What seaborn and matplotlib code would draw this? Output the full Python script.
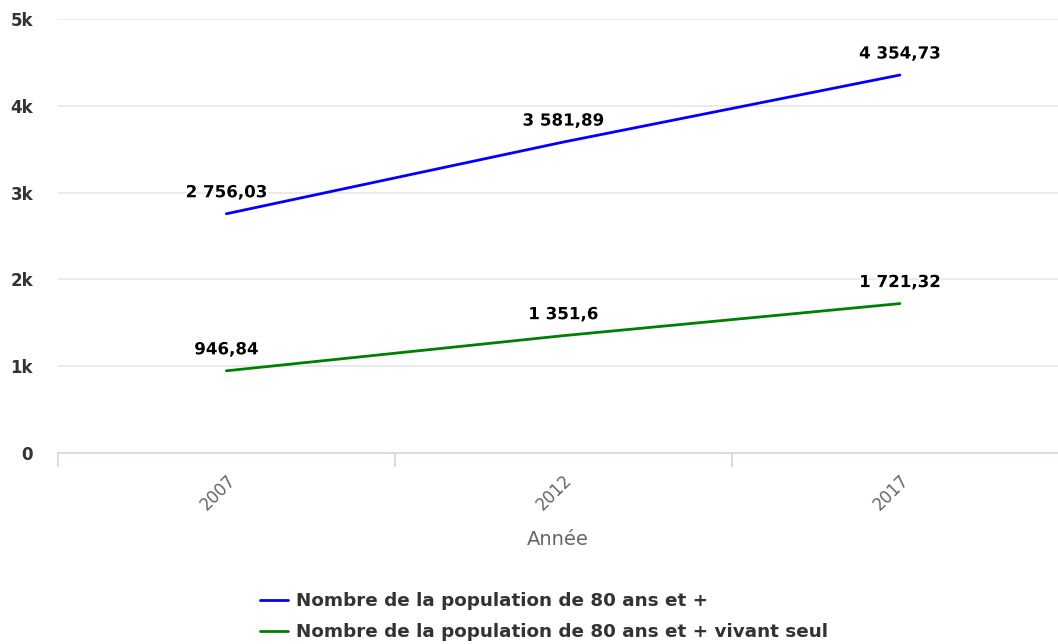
import matplotlib
matplotlib.use("Agg")
import matplotlib.pyplot as plt
import matplotlib.patheffects as pe
from matplotlib.ticker import FixedLocator, FuncFormatter
from matplotlib.lines import Line2D
import pandas as pd
import seaborn as sns

# Data
years = ["2007", "2012", "2017"]
pop_80_plus = [2756.03, 3581.89, 4354.73]
pop_80_plus_alone = [946.84, 1351.6, 1721.32]
series_names = [
    "Nombre de la population de 80 ans et +",
    "Nombre de la population de 80 ans et + vivant seul",
]
series_colors = ["#0000ff", "#008000"]
y_ticks = [0, 1000, 2000, 3000, 4000, 5000]

df = pd.DataFrame({
    "Année": list(range(len(years))) * 2,
    "valeur": pop_80_plus + pop_80_plus_alone,
    "série": [series_names[0]] * len(years) + [series_names[1]] * len(years),
})

sns.set_theme(style="white")
plt.rcParams["font.family"] = ["DejaVu Sans"]

W, H = 1058, 644
fig = plt.figure(figsize=(W / 100, H / 100), dpi=100)
ax = fig.add_axes([58 / W, (H - 453) / H, (W - 58) / W, (453 - 19) / H])

sns.lineplot(data=df, x="Année", y="valeur", hue="série",
             palette=dict(zip(series_names, series_colors)),
             linewidth=2.0, ax=ax, legend=False, sort=False)

# Value labels
def fmt_fr(v):
    s = f"{v:,.2f}".rstrip("0").rstrip(".")
    return s.replace(",", " ").replace(".", ",")

for vals in (pop_80_plus, pop_80_plus_alone):
    for i, v in enumerate(vals):
        ax.annotate(fmt_fr(v), (i, v), xytext=(0, 9), textcoords="offset points",
                    ha="center", va="bottom", fontsize=12, fontweight="bold",
                    color="#000000",
                    path_effects=[pe.withStroke(linewidth=2.5, foreground="white")])

# Y axis
ax.yaxis.set_major_locator(FixedLocator(y_ticks))
ax.yaxis.set_major_formatter(FuncFormatter(lambda v, p: "0" if v == 0 else f"{int(v/1000)}k"))
ax.grid(axis="y", color="#e6e6e6", linewidth=1.2)
ax.tick_params(axis="y", length=0, pad=18, labelsize=12, labelcolor="#333333")
for lab in ax.get_yticklabels():
    lab.set_fontweight("bold")

# X axis: categories with boundary tick marks
ax.set_xticks(range(len(years)))
ax.set_xticklabels(years, rotation=45, ha="right", rotation_mode="anchor")
ax.set_xticks([-0.5, 0.5, 1.5, 2.5], minor=True)
ax.tick_params(axis="x", which="major", length=0, pad=13, labelsize=12, labelcolor="#666666")
ax.tick_params(axis="x", which="minor", length=10, width=1.2, color="#ccd6eb", direction="out", bottom=True)
ax.set_xlabel("Année", fontsize=14, color="#666666", labelpad=12)
ax.set_ylabel("")

ax.set_xlim(-0.5, 2 + (W - 900) / 336.7)
ax.set_ylim(0, 5000)

for side in ("top", "right", "left"):
    ax.spines[side].set_visible(False)
ax.spines["bottom"].set_color("#ccd6eb")
ax.spines["bottom"].set_linewidth(1.2)

# Legend
handles = [Line2D([0], [0], color=c, linewidth=2.0) for c in series_colors]
leg = fig.legend(handles, series_names, loc="upper left",
                 bbox_to_anchor=(260 / W, 1 - 592 / H), frameon=False,
                 borderpad=0, borderaxespad=0,
                 handlelength=1.5, handletextpad=0.45, labelspacing=0.72,
                 prop={"size": 13.2, "weight": "bold"})
for t in leg.get_texts():
    t.set_color("#333333")

fig.savefig("out.png", dpi=100)
